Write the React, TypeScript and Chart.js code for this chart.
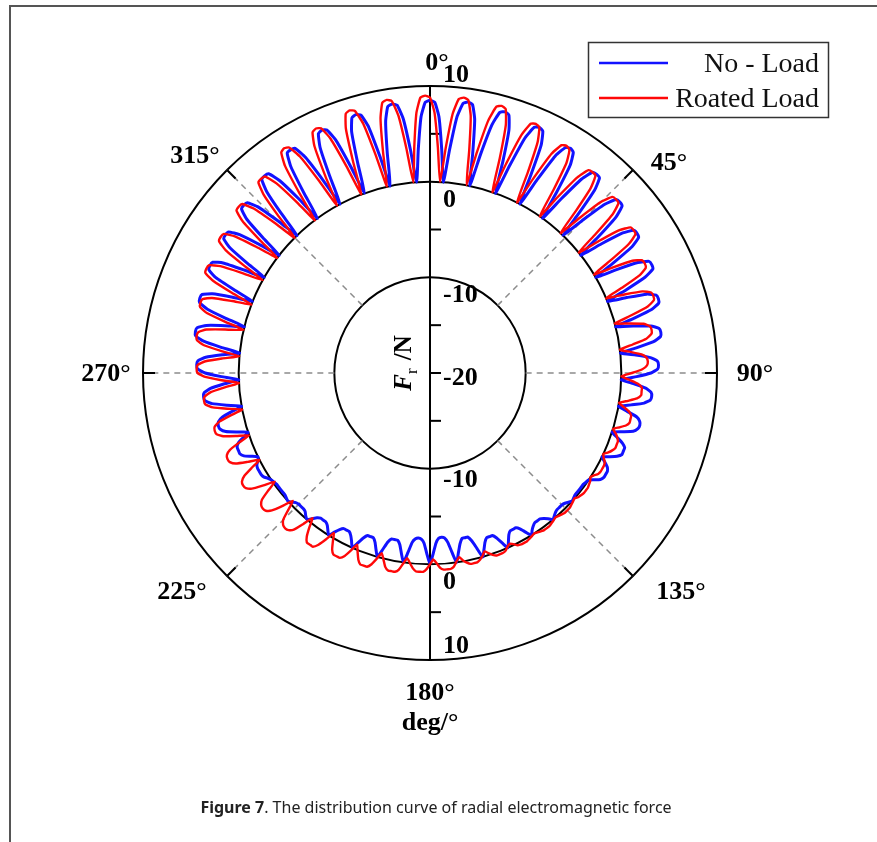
import React, { useEffect, useRef } from 'react';
import { Chart, registerables } from 'chart.js';

Chart.register(...registerables);

// ---- categories: angle in degrees (0 at top, clockwise) ----
const ANGLES: number[] = Array.from({ length: 360 }, (_, i) => i);

// ---- angle tick labels ----
const ANGLE_TICKS = [0, 45, 90, 135, 180, 225, 270, 315];
const ANGLE_TICK_LABELS = ['0°', '45°', '90°', '135°', '180°', '225°', '270°', '315°'];

// ---- radial axis ----
const R_MIN = -20;
const R_MAX = 10;
const RADIAL_TICKS = [10, 0, -10, -20];
const RADIAL_MINOR = [5, -5, -15, -20];
const RADIAL_TITLE = ['F', 'r', ' /N'];
const ANGLE_TITLE = 'deg/°';

const SERIES_LABELS = ['No - Load', 'Roated Load'];

// ---- series values (F_r in N, one value per degree) ----
const NO_LOAD: number[] = [
  8.5, 8.3, 6.8, 3.4, 0, 3.4, 6.9, 8.4,
  8.6, 8.4, 6.9, 3.4, 0, 3.4, 6.7, 8.2,
  8.4, 8.2, 6.7, 3.4, 0, 3.2, 6.5, 7.9,
  8.1, 7.9, 6.5, 3.2, 0, 3.1, 6.2, 7.5,
  7.7, 7.5, 6.2, 3.1, 0, 2.8, 5.7, 7.0,
  7.1, 7.0, 5.7, 2.8, 0, 2.7, 5.4, 6.6,
  6.7, 6.6, 5.4, 2.7, 0, 2.4, 4.9, 6.0,
  6.1, 6.0, 4.9, 2.4, 0, 2.3, 4.6, 5.7,
  5.8, 5.7, 4.6, 2.3, 0, 2.0, 4.1, 5.0,
  5.1, 5.0, 4.1, 2.0, 0, 1.8, 3.6, 4.4,
  4.5, 4.4, 3.6, 1.8, 0, 1.6, 3.1, 3.8,
  3.9, 3.8, 3.1, 1.6, 0, 1.3, 2.6, 3.2,
  3.3, 3.2, 2.6, 1.3, 0, 1.0, 2.1, 2.5,
  2.6, 2.5, 2.1, 1.0, 0, 0.7, 1.4, 1.8,
  1.8, 1.8, 1.4, 0.7, 0, 0.5, 1.0, 1.2,
  1.2, 1.2, 1.0, 0.5, 0, -0.1, -0.2, -0.2,
  -0.2, -0.2, -0.2, -0.1, 0, -0.2, -0.4, -0.5,
  -0.5, -0.5, -0.4, -0.2, 0, -0.4, -0.7, -0.9,
  -0.9, -0.9, -0.7, -0.4, 0, -0.6, -1.2, -1.5,
  -1.5, -1.5, -1.2, -0.6, 0, -0.7, -1.4, -1.8,
  -1.8, -1.8, -1.4, -0.7, 0, -1.0, -1.9, -2.4,
  -2.4, -2.4, -1.9, -1.0, 0, -1.1, -2.2, -2.7,
  -2.8, -2.7, -2.2, -1.1, 0, -1.1, -2.2, -2.6,
  -2.7, -2.6, -2.2, -1.1, 0, -0.9, -1.8, -2.2,
  -2.2, -2.2, -1.8, -0.9, 0, -0.7, -1.4, -1.8,
  -1.8, -1.8, -1.4, -0.7, 0, -0.6, -1.1, -1.4,
  -1.4, -1.4, -1.1, -0.6, 0, -0.4, -0.8, -1.0,
  -1.0, -1.0, -0.8, -0.4, 0, -0.2, -0.5, -0.6,
  -0.6, -0.6, -0.5, -0.2, 0, -0.1, -0.2, -0.2,
  -0.2, -0.2, -0.2, -0.1, 0, 0.2, 0.5, 0.6,
  0.6, 0.6, 0.5, 0.2, 0, 0.6, 1.3, 1.6,
  1.6, 1.6, 1.3, 0.6, 0, 1.1, 2.2, 2.7,
  2.8, 2.7, 2.2, 1.1, 0, 1.5, 3.0, 3.7,
  3.8, 3.7, 3.0, 1.5, 0, 1.8, 3.5, 4.3,
  4.4, 4.3, 3.5, 1.8, 0, 2.0, 3.9, 4.8,
  4.9, 4.8, 3.9, 2.0, 0, 2.1, 4.2, 5.2,
  5.3, 5.2, 4.2, 2.1, 0, 2.2, 4.5, 5.5,
  5.6, 5.5, 4.5, 2.2, 0, 2.3, 4.6, 5.7,
  5.8, 5.7, 4.6, 2.3, 0, 2.5, 5.0, 6.1,
  6.2, 6.1, 5.0, 2.5, 0, 2.8, 5.5, 6.8,
  6.9, 6.8, 5.5, 2.8, 0, 3.0, 6.0, 7.4,
  7.5, 7.4, 6.0, 3.0, 0, 3.1, 6.2, 7.6,
  7.8, 7.6, 6.2, 3.1, 0, 3.2, 6.5, 7.9,
  8.1, 7.9, 6.5, 3.2, 0, 3.4, 6.7, 8.2,
  8.4, 8.2, 6.7, 3.4, 0, 3.4, 6.8, 8.3,
];

const ROTATED_LOAD: number[] = [
  8.8, 7.2, 3.6, 0, 3.6, 7.2, 8.8, 9.0,
  8.8, 7.2, 3.6, 0, 3.6, 7.1, 8.7, 8.9,
  8.7, 7.1, 3.6, 0, 3.3, 6.6, 8.1, 8.3,
  8.1, 6.6, 3.3, 0, 3.1, 6.2, 7.5, 7.7,
  7.5, 6.2, 3.1, 0, 2.8, 5.6, 6.9, 7.0,
  6.9, 5.6, 2.8, 0, 2.6, 5.3, 6.5, 6.6,
  6.5, 5.3, 2.6, 0, 2.4, 4.8, 5.9, 6.0,
  5.9, 4.8, 2.4, 0, 2.1, 4.2, 5.1, 5.2,
  5.1, 4.2, 2.1, 0, 1.9, 3.8, 4.6, 4.7,
  4.6, 3.8, 1.9, 0, 1.4, 2.9, 3.5, 3.6,
  3.5, 2.9, 1.4, 0, 1.1, 2.2, 2.7, 2.8,
  2.7, 2.2, 1.1, 0, 0.9, 1.8, 2.2, 2.2,
  2.2, 1.8, 0.9, 0, 0.6, 1.2, 1.5, 1.5,
  1.5, 1.2, 0.6, 0, 0.4, 0.7, 0.9, 0.9,
  0.9, 0.7, 0.4, 0, 0.2, 0.5, 0.6, 0.6,
  0.6, 0.5, 0.2, 0, 0.2, 0.3, 0.4, 0.4,
  0.4, 0.3, 0.2, 0, 0.1, 0.2, 0.3, 0.3,
  0.3, 0.2, 0.1, 0, 0.1, 0.2, 0.3, 0.3,
  0.3, 0.2, 0.1, 0, 0.1, 0.2, 0.3, 0.3,
  0.3, 0.2, -0.1, -0.3, -0.1, 0.2, 0.3, 0.3,
  0.3, 0.1, -0.2, -0.5, -0.1, 0.2, 0.4, 0.4,
  0.4, 0.2, -0.1, -0.5, -0.1, 0.4, 0.6, 0.6,
  0.6, 0.4, -0.1, -0.5, 0.0, 0.5, 0.8, 0.8,
  0.8, 0.5, 0.0, -0.5, 0.1, 0.8, 1.1, 1.1,
  1.1, 0.8, 0.1, -0.5, 0.2, 0.9, 1.3, 1.3,
  1.3, 0.9, 0.2, -0.5, 0.3, 1.1, 1.5, 1.5,
  1.5, 1.1, 0.3, -0.5, 0.5, 1.4, 1.9, 1.9,
  1.9, 1.4, 0.5, -0.5, 0.6, 1.7, 2.1, 2.2,
  2.1, 1.7, 0.6, -0.4, 0.8, 1.9, 2.4, 2.5,
  2.4, 2.0, 0.9, -0.2, 1.0, 2.2, 2.7, 2.8,
  2.7, 2.2, 1.1, 0, 1.2, 2.4, 2.9, 3.0,
  2.9, 2.4, 1.2, 0, 1.3, 2.6, 3.2, 3.3,
  3.2, 2.6, 1.3, 0, 1.5, 3.0, 3.7, 3.8,
  3.7, 3.0, 1.5, 0, 1.8, 3.5, 4.3, 4.4,
  4.3, 3.5, 1.8, 0, 1.9, 3.8, 4.6, 4.7,
  4.6, 3.8, 1.9, 0, 2.0, 4.1, 5.0, 5.1,
  5.0, 4.1, 2.0, 0, 2.3, 4.6, 5.7, 5.8,
  5.7, 4.6, 2.3, 0, 2.4, 4.9, 6.0, 6.1,
  6.0, 4.9, 2.4, 0, 2.6, 5.2, 6.4, 6.5,
  6.4, 5.2, 2.6, 0, 2.8, 5.5, 6.8, 6.9,
  6.8, 5.5, 2.8, 0, 3.2, 6.4, 7.8, 8.0,
  7.8, 6.4, 3.2, 0, 3.3, 6.6, 8.0, 8.2,
  8.0, 6.6, 3.3, 0, 3.5, 7.0, 8.5, 8.7,
  8.5, 7.0, 3.5, 0, 3.6, 7.1, 8.7, 8.9,
  8.7, 7.1, 3.6, 0, 3.6, 7.2, 8.8, 9.0,
];

const SERIF = '"Liberation Serif", "Times New Roman", serif';
const BLUE = 'rgb(18,18,255)';
const RED = 'rgb(255,8,8)';

const decorPlugin = {
  id: 'polarDecor',
  beforeDatasetsDraw(chart: any) {
    const s = chart.scales.r;
    const ctx = chart.ctx as CanvasRenderingContext2D;
    const rOuter = s.getDistanceFromCenterForValue(R_MAX);
    const rInner = s.getDistanceFromCenterForValue(-10);
    ctx.save();
    // dashed radial guide lines
    ctx.setLineDash([6, 5]);
    ctx.strokeStyle = '#8c8c8c';
    ctx.lineWidth = 1.5;
    ANGLE_TICKS.forEach((a) => {
      if (a === 0 || a === 180) return;
      const p1 = s.getPointPosition(a, rInner);
      const p2 = s.getPointPosition(a, rOuter);
      ctx.beginPath();
      ctx.moveTo(p1.x, p1.y);
      ctx.lineTo(p2.x, p2.y);
      ctx.stroke();
    });
    ctx.setLineDash([]);
    // short solid ticks at outer circle
    ctx.strokeStyle = '#000';
    ctx.lineWidth = 2;
    ANGLE_TICKS.forEach((a) => {
      const p1 = s.getPointPosition(a, rOuter - 12);
      const p2 = s.getPointPosition(a, rOuter);
      ctx.beginPath();
      ctx.moveTo(p1.x, p1.y);
      ctx.lineTo(p2.x, p2.y);
      ctx.stroke();
    });
    // vertical radial axis
    const top = s.getPointPosition(0, rOuter);
    const bot = s.getPointPosition(180, rOuter);
    ctx.beginPath();
    ctx.moveTo(top.x, top.y);
    ctx.lineTo(bot.x, bot.y);
    ctx.stroke();
    // minor ticks on the axis
    RADIAL_MINOR.forEach((v) => {
      const d = s.getDistanceFromCenterForValue(v);
      [-1, 1].forEach((sg) => {
        const y = s.yCenter + sg * d;
        ctx.beginPath();
        ctx.moveTo(s.xCenter, y);
        ctx.lineTo(s.xCenter + 11, y);
        ctx.stroke();
      });
    });
    ctx.restore();
  },
  afterDatasetsDraw(chart: any) {
    const s = chart.scales.r;
    const ctx = chart.ctx as CanvasRenderingContext2D;
    const cx = s.xCenter;
    const cy = s.yCenter;
    const rOuter = s.getDistanceFromCenterForValue(R_MAX);
    ctx.save();
    ctx.fillStyle = '#000';
    ctx.font = `bold 26px ${SERIF}`;
    ctx.textBaseline = 'alphabetic';
    // radial tick labels, along the vertical axis, both halves
    ctx.textAlign = 'left';
    RADIAL_TICKS.forEach((v) => {
      const d = s.getDistanceFromCenterForValue(v);
      const txt = String(v);
      if (v === R_MIN) {
        ctx.fillText(txt, cx + 13, cy + 12);
        return;
      }
      const offTop = v === R_MAX ? -4 : 25;
      const offBot = v === R_MAX ? -7 : v === -10 ? 18 : 25;
      ctx.fillText(txt, cx + 13, cy - d + offTop);
      ctx.fillText(txt, cx + 13, cy + d + offBot);
    });
    // angle labels
    const offs: Record<number, [number, number]> = {
      0: [7, -16], 45: [36, 0], 90: [38, 8], 135: [48, 23],
      180: [0, 40], 225: [-45, 23], 270: [-37, 8], 315: [-32, -7],
    };
    ctx.textAlign = 'center';
    ANGLE_TICKS.forEach((a, i) => {
      const p = s.getPointPosition(a, rOuter);
      const [dx, dy] = offs[a];
      ctx.fillText(ANGLE_TICK_LABELS[i], p.x + dx, p.y + dy);
    });
    // angle axis title
    const pb = s.getPointPosition(180, rOuter);
    ctx.fillText(ANGLE_TITLE, pb.x, pb.y + 70);

    // radial axis title (rotated)
    ctx.save();
    ctx.translate(cx - 27, cy - 10);
    ctx.rotate(-Math.PI / 2);
    ctx.textAlign = 'left';
    const fMain = `italic bold 25px ${SERIF}`;
    const fSub = `17px ${SERIF}`;
    const fRest = `bold 25px ${SERIF}`;
    ctx.font = fMain;
    const w1 = ctx.measureText(RADIAL_TITLE[0]).width;
    ctx.font = fSub;
    const w2 = ctx.measureText(RADIAL_TITLE[1]).width;
    ctx.font = fRest;
    const w3 = ctx.measureText(RADIAL_TITLE[2]).width;
    let x0 = -(w1 + w2 + 2 + w3) / 2;
    ctx.font = fMain;
    ctx.fillText(RADIAL_TITLE[0], x0, 8);
    x0 += w1;
    ctx.font = fSub;
    ctx.fillText(RADIAL_TITLE[1], x0, 14);
    x0 += w2 + 2;
    ctx.font = fRest;
    ctx.fillText(RADIAL_TITLE[2], x0, 8);
    ctx.restore();

    // legend box
    const lx = 588.5, ly = 42.5, lw = 240, lh = 75;
    ctx.strokeStyle = '#333';
    ctx.lineWidth = 1.5;
    ctx.strokeRect(lx, ly, lw, lh);
    ctx.font = `28px ${SERIF}`;
    ctx.textAlign = 'right';
    chart.data.datasets.forEach((ds: any, i: number) => {
      const yLine = 63 + i * 35;
      ctx.strokeStyle = ds.borderColor;
      ctx.lineWidth = 2.5;
      ctx.beginPath();
      ctx.moveTo(599, yLine);
      ctx.lineTo(668, yLine);
      ctx.stroke();
      ctx.fillStyle = '#111';
      ctx.fillText(ds.label, 819, yLine + 9);
    });
    ctx.restore();
  },
};

export default function App() {
  const ref = useRef<HTMLCanvasElement>(null);
  useEffect(() => {
    const canvas = ref.current;
    if (!canvas) return;
    const chart = new Chart(canvas, {
      type: 'radar',
      data: {
        labels: ANGLES,
        datasets: [
          {
            label: SERIES_LABELS[0],
            data: NO_LOAD,
            borderColor: BLUE,
            backgroundColor: 'transparent',
            borderWidth: 3,
            pointRadius: 0,
            fill: false,
            tension: 0.15,
            order: 1,
          },
          {
            label: SERIES_LABELS[1],
            data: ROTATED_LOAD,
            borderColor: RED,
            backgroundColor: 'transparent',
            borderWidth: 2.4,
            pointRadius: 0,
            fill: false,
            tension: 0.15,
            order: 0,
          },
        ],
      },
      options: {
        responsive: false,
        animation: false,
        devicePixelRatio: 1,
        events: [],
        layout: { padding: { left: 143, top: 86, right: 160, bottom: 182 } },
        plugins: {
          legend: { display: false },
          tooltip: { enabled: false },
          title: { display: false },
        },
        elements: { point: { radius: 0, hoverRadius: 0, hitRadius: 0 } },
        scales: {
          r: {
            min: R_MIN,
            max: R_MAX,
            startAngle: 0,
            ticks: { display: false, stepSize: 10 },
            grid: { circular: true, color: '#000', lineWidth: 2 },
            angleLines: { display: false },
            pointLabels: { display: false },
          },
        },
      },
      plugins: [decorPlugin],
    } as any);
    return () => chart.destroy();
  }, []);

  return (
    <div style={{ position: 'absolute', left: 0, top: 0, width: 877, height: 842, background: '#fff', overflow: 'hidden' }}>
      <div style={{ position: 'absolute', left: 9, top: 5, right: 0, height: 2, background: '#555' }} />
      <div style={{ position: 'absolute', left: 9, top: 5, width: 2, bottom: 0, background: '#555' }} />
      <canvas ref={ref} width={877} height={842} style={{ position: 'absolute', left: 0, top: 0 }} />
      <div
        style={{
          position: 'absolute',
          left: 0,
          width: 872,
          top: 797,
          textAlign: 'center',
          fontFamily: '"Noto Sans", "Open Sans", sans-serif',
          fontSize: 16,
          lineHeight: '20px',
          color: '#222',
        }}
      >
        <b>Figure 7</b>. The distribution curve of radial electromagnetic force
      </div>
    </div>
  );
}
